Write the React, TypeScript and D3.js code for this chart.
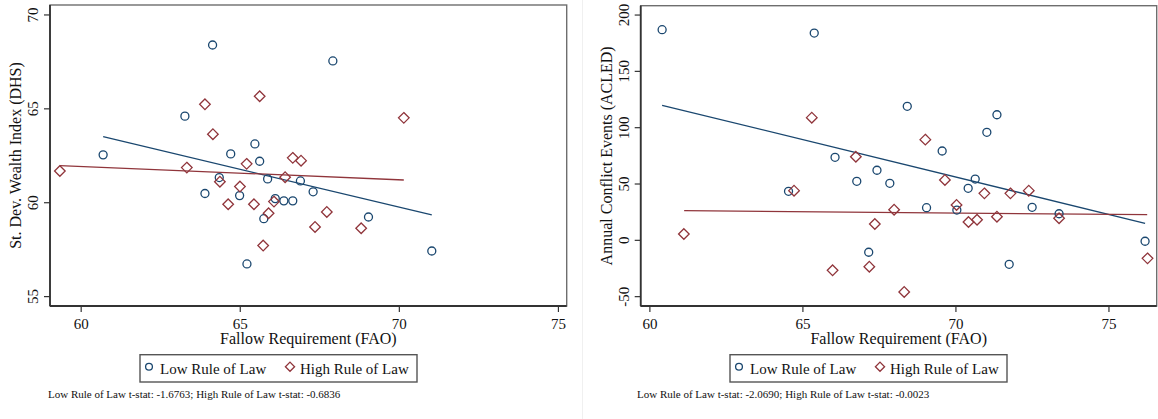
import React from "react";
import * as d3 from "d3";

// left panel: wealth index vs fallow requirement
const leftLowX = [60.69, 64.13, 63.26, 64.7, 65.46, 65.61, 64.34, 65.86, 66.89, 67.29, 67.91, 63.89, 64.98, 66.1, 66.37, 66.65, 65.74, 65.21, 69.03, 71.02];
const leftLowY = [62.55, 68.4, 64.61, 62.6, 63.13, 62.21, 61.34, 61.27, 61.16, 60.58, 67.55, 60.49, 60.38, 60.22, 60.1, 60.1, 59.15, 56.74, 59.24, 57.43];
const leftHighX = [59.33, 63.89, 65.61, 64.14, 63.32, 65.2, 66.65, 66.91, 66.41, 64.36, 64.99, 70.14, 64.62, 65.43, 66.06, 65.89, 65.72, 67.72, 67.35, 68.8];
const leftHighY = [61.69, 65.24, 65.67, 63.65, 61.87, 62.07, 62.39, 62.24, 61.36, 61.12, 60.86, 64.52, 59.92, 59.92, 60.06, 59.44, 57.72, 59.51, 58.71, 58.64];
const leftLowFit = [[60.69, 63.52], [71.02, 59.35]];
const leftHighFit = [[59.33, 61.98], [70.14, 61.21]];

// right panel: conflict events vs fallow requirement
const rightLowX = [60.4, 65.37, 66.05, 66.76, 67.42, 64.53, 68.41, 71.34, 71.01, 69.55, 67.84, 70.63, 70.4, 69.04, 70.03, 67.15, 72.49, 73.37, 76.18, 71.74];
const rightLowY = [187.0, 184.0, 73.7, 52.4, 62.2, 43.5, 119.0, 111.5, 95.9, 79.3, 50.6, 54.4, 46.2, 29.0, 26.9, -10.6, 29.3, 23.6, -0.8, -21.3];
const rightHighX = [61.11, 64.71, 65.29, 66.73, 65.97, 67.17, 67.35, 67.98, 68.31, 69.0, 69.64, 70.02, 70.41, 70.69, 70.93, 71.34, 71.78, 72.38, 73.37, 76.26];
const rightHighY = [5.6, 44.1, 108.9, 74.2, -26.6, -23.4, 14.5, 27.2, -45.8, 89.4, 53.6, 31.4, 16.3, 18.3, 41.7, 21.0, 41.7, 44.1, 19.6, -16.0];
const rightLowFit = [[60.4, 119.9], [76.18, 15.1]];
const rightHighFit = [[61.12, 26.3], [76.25, 22.8]];

const xTicks = [60, 65, 70, 75];
const leftYTicks = [55, 60, 65, 70];
const rightYTicks = [-50, 0, 50, 100, 150, 200];

const seriesNames = ["Low Rule of Law", "High Rule of Law"];
const xTitle = "Fallow Requirement (FAO)";

const NAVY = "#1a476f";
const MAROON = "#90353b";
const FONT = "'Liberation Serif', 'Times New Roman', serif";

type PanelProps = {
  left: number;
  right: number;
  top: number;
  bottom: number;
  xDomain: number[];
  yDomain: number[];
  yTicks: number[];
  yTitle: string;
  lowX: number[];
  lowY: number[];
  highX: number[];
  highY: number[];
  lowFit: number[][];
  highFit: number[][];
  legendX: number;
  note: string;
  noteX: number;
};

function Diamond({ cx, cy, r, color }: { cx: number; cy: number; r: number; color: string }) {
  return (
    <path
      d={`M${cx},${cy - r}L${cx + r},${cy}L${cx},${cy + r}L${cx - r},${cy}Z`}
      fill="none"
      stroke={color}
      strokeWidth={1.3}
    />
  );
}

function Panel(p: PanelProps) {
  const x = d3.scaleLinear().domain(p.xDomain).range([p.left, p.right]);
  const y = d3.scaleLinear().domain(p.yDomain).range([p.bottom, p.top]);
  const line = d3
    .line<number[]>()
    .x((d) => x(d[0]))
    .y((d) => y(d[1]));
  const midX = (p.left + p.right) / 2;
  const midY = (p.top + p.bottom) / 2;
  const lgTop = 354.7;
  const lgH = 27.3;
  const lgW = 277;

  return (
    <g fontFamily={FONT} fill="#111">
      {/* plot region outline */}
      <rect
        x={p.left}
        y={p.top}
        width={p.right - p.left}
        height={p.bottom - p.top}
        fill="none"
        stroke="#6e6e6e"
        strokeWidth={1.4}
      />
      {/* axes */}
      <line x1={p.left} x2={p.left} y1={p.top} y2={p.bottom} stroke="#333" strokeWidth={1.8} />
      <line x1={p.left} x2={p.right} y1={p.bottom} y2={p.bottom} stroke="#333" strokeWidth={1.8} />
      {p.yTicks.map((t) => (
        <g key={"y" + t}>
          <line x1={p.left - 6} x2={p.left} y1={y(t)} y2={y(t)} stroke="#333" strokeWidth={1.2} />
          <text
            transform={`translate(${p.left - 12},${y(t)}) rotate(-90)`}
            textAnchor="middle"
            fontSize={15}
          >
            {t}
          </text>
        </g>
      ))}
      {xTicks.map((t) => (
        <g key={"x" + t}>
          <line x1={x(t)} x2={x(t)} y1={p.bottom} y2={p.bottom + 6} stroke="#333" strokeWidth={1.2} />
          <text x={x(t)} y={p.bottom + 23} textAnchor="middle" fontSize={15}>
            {t}
          </text>
        </g>
      ))}
      <text x={midX} y={p.bottom + 38} textAnchor="middle" fontSize={16}>
        {xTitle}
      </text>
      <text
        transform={`translate(${p.left - 29},${midY}) rotate(-90)`}
        textAnchor="middle"
        fontSize={16}
      >
        {p.yTitle}
      </text>

      {/* fitted lines */}
      <path d={line(p.lowFit) || ""} fill="none" stroke={NAVY} strokeWidth={1.3} />
      <path d={line(p.highFit) || ""} fill="none" stroke={MAROON} strokeWidth={1.3} />

      {/* markers */}
      {p.lowX.map((v, i) => (
        <circle key={"l" + i} cx={x(v)} cy={y(p.lowY[i])} r={4} fill="none" stroke={NAVY} strokeWidth={1.3} />
      ))}
      {p.highX.map((v, i) => (
        <Diamond key={"h" + i} cx={x(v)} cy={y(p.highY[i])} r={5.3} color={MAROON} />
      ))}

      {/* legend */}
      <rect x={p.legendX} y={lgTop} width={lgW} height={lgH} fill="#fff" stroke="#555" strokeWidth={1.4} />
      <circle cx={p.legendX + 9} cy={lgTop + 12} r={3.4} fill="none" stroke={NAVY} strokeWidth={1.3} />
      <text x={p.legendX + 20} y={lgTop + 19} fontSize={15}>
        {seriesNames[0]}
      </text>
      <Diamond cx={p.legendX + 150} cy={lgTop + 12} r={4.6} color={MAROON} />
      <text x={p.legendX + 160} y={lgTop + 19} fontSize={15}>
        {seriesNames[1]}
      </text>

      <text x={p.noteX} y={398} fontSize={11}>
        {p.note}
      </text>
    </g>
  );
}

export default function App() {
  return (
    <svg
      width={1158}
      height={419}
      style={{ position: "absolute", left: 0, top: 0, background: "#fff" }}
    >
      <rect x={0} y={0} width={1158} height={419} fill="#fff" />
      <line x1={582.5} x2={582.5} y1={0} y2={419} stroke="#f0f0f0" strokeWidth={1} />
      <Panel
        left={50}
        right={566.7}
        top={5}
        bottom={306}
        xDomain={[59.02, 75.26]}
        yDomain={[54.5, 70.53]}
        yTicks={leftYTicks}
        yTitle="St. Dev. Wealth Index (DHS)"
        lowX={leftLowX}
        lowY={leftLowY}
        highX={leftHighX}
        highY={leftHighY}
        lowFit={leftLowFit}
        highFit={leftHighFit}
        legendX={140}
        note="Low Rule of Law t-stat: -1.6763; High Rule of Law t-stat: -0.6836"
        noteX={48}
      />
      <Panel
        left={640.7}
        right={1156.7}
        top={5.7}
        bottom={306}
        xDomain={[59.7, 76.56]}
        yDomain={[-58.3, 208.3]}
        yTicks={rightYTicks}
        yTitle="Annual Conflict Events (ACLED)"
        lowX={rightLowX}
        lowY={rightLowY}
        highX={rightHighX}
        highY={rightHighY}
        lowFit={rightLowFit}
        highFit={rightHighFit}
        legendX={730}
        note="Low Rule of Law t-stat: -2.0690; High Rule of Law t-stat: -0.0023"
        noteX={637}
      />
    </svg>
  );
}
